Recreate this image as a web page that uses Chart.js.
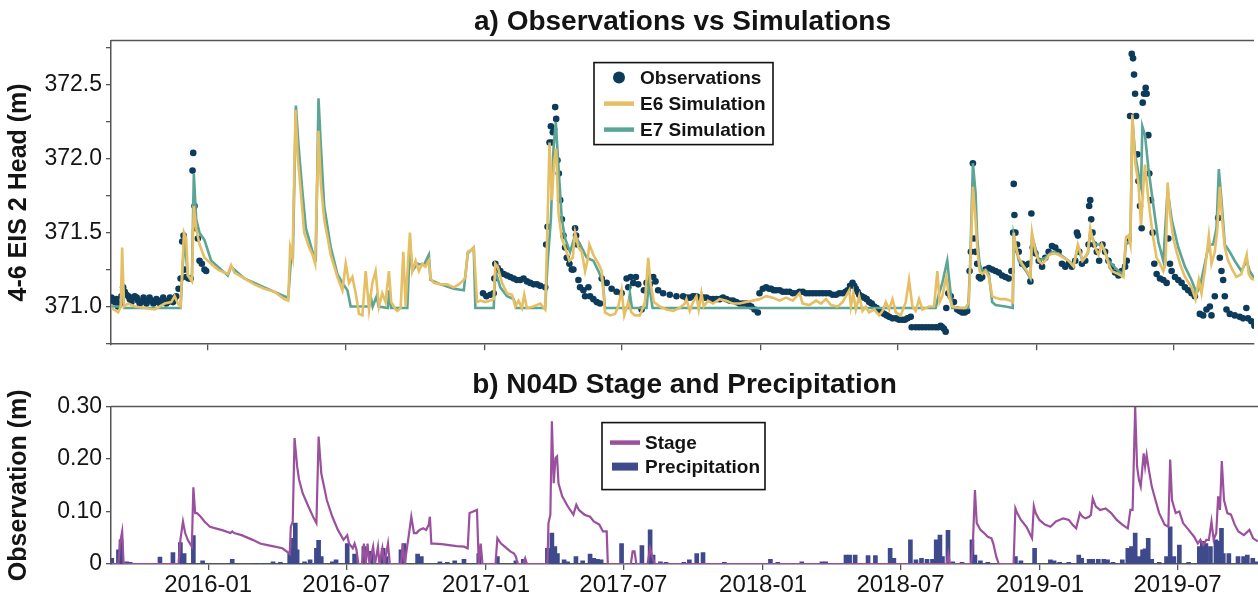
<!DOCTYPE html>
<html>
<head>
<meta charset="utf-8">
<script src="https://cdn.jsdelivr.net/npm/chart.js@4.4.1/dist/chart.umd.min.js"></script>
<style>
  html, body { margin: 0; padding: 0; background: #fff; overflow: hidden; }
  #top { position: absolute; left: 0; top: 0; width: 1258px; height: 362px; }
  #bottom { position: absolute; left: 0; top: 362px; width: 1258px; height: 239px; }
</style>
</head>
<body>
<div id="top"><canvas id="headChart"></canvas></div>
<div id="bottom"><canvas id="stageChart"></canvas></div>
<script>
// x values are days since 2016-01-01
const xTickDays = [0, 182, 366, 547, 731, 912, 1096, 1277];
const xTickLabels = ['2016-01', '2016-07', '2017-01', '2017-07', '2018-01', '2018-07', '2019-01', '2019-07'];
const headTicks = [370.75, 371.0, 371.25, 371.5, 371.75, 372.0, 372.25, 372.5, 372.75];
const stageTicks = [0, 0.05, 0.10, 0.15, 0.20, 0.25, 0.30];

const obsDay = [
  -127.4, -125.2, -123.0, -121, -118.6, -116, -114.2, -112.0, -109.8, -107.6, -105, -103.2, -101, -98.8, -96.6, -94,
  -92.3, -90, -87.9, -85, -83.5, -81, -79.1, -77, -74.7, -72, -70.3, -68, -65.9, -63, -61.5, -59, -57.1, -55,
  -52.7, -50, -48.3, -46, -43.9, -41.7, -38.7, -36.0, -33.8, -32.1, -30.8, -28.6, -25.5, -22.8, -20.2, -19.3,
  -17.6, -15.8, -13.2, -11.0, -7.9, -4.4, -2.2,
  363.8, 368.2, 373.5, 377.9, 378.8, 380.1, 383.2, 386.7, 391.1, 395.5, 399.9, 404.3, 408.6, 413.0, 417.4, 421.8,
  426.2, 430.6, 435.0, 439.4, 446.0, 447.3, 449.1, 451.7, 453.5, 454.8, 456.1, 457.8, 459.2, 460.5, 462.2, 464.0,
  465.8, 468.0, 470.1, 472.3, 474.5, 478.0, 481.1, 483.3, 485.5, 486.8, 488.6, 489.9, 492.1, 496.5, 498.7, 503.1,
  505.3, 509.7, 514.1, 518.5, 520.7, 527.2, 533.8, 540.4, 547.0, 553.6, 555.8, 558.9, 562.4, 565.9, 569.0, 573.4,
  576.5, 580.0, 584.3, 588.8, 591.8, 595.3, 601.9, 610.7, 619.5,
  628.3, 632.7, 637.1, 641.5, 645.9, 650.3, 654.7, 659.0, 663.4, 667.8, 672.2, 676.6, 681.0, 685.4, 689.8, 694.2,
  698.6, 703.0, 707.4, 711.8, 715.0, 718.4, 722.7, 727.1, 729.3, 733.7, 738.1, 742.0, 744.7, 748.0, 751.3, 756.0,
  760.1, 764.5, 768.9, 773.3, 777.7, 782.1, 786.5, 790.8, 795.2, 799.6, 804.0, 808.4, 812.8, 817.2, 821.6, 826.0,
  830.4, 834.8, 839.2, 843.0, 845.8, 849.0, 852.3, 854.5, 856.7, 859.0, 861.1, 864.4, 867.7, 871.0, 874.3, 877.6,
  880.9, 884.2, 887.5, 890.8, 894.1, 897.4, 900.7, 905.1, 909.5, 913.8, 918.2, 921.5, 924.8, 929.2, 930.5, 935.8,
  940.2, 944.6, 949.0, 953.4, 957.8, 962.2, 965.5, 968.8, 971.0, 973.1, 975.4, 976.2, 978.9, 982.0, 986.3, 990.7,
  994.0, 997.3, 1000.6, 1003.9, 1007.0, 1008.7, 1011.4,
  1012.7, 1014.9, 1017.1, 1019.3, 1021.5, 1023.7, 1028.1, 1032.5, 1036.9, 1041.3, 1045.6, 1050.0, 1054.4, 1058.8,
  1062.3, 1064.5, 1065.4, 1066.3, 1067.6, 1069.8, 1072.0, 1076.4, 1080.8, 1085.2, 1087.4, 1088.7, 1090.5, 1094.0,
  1098.4, 1102.8, 1107.1, 1111.5, 1115.9, 1120.3, 1124.7, 1129.1, 1133.5, 1137.9, 1142.3, 1146.7, 1148.9, 1150.2,
  1152.0, 1155.5, 1159.9, 1164.3, 1165.1, 1166.5, 1167.8, 1169.5, 1171.7, 1175.2, 1178.3, 1182.7, 1186.2, 1190.6,
  1195.0, 1199.4, 1203.8, 1208.2, 1212.6, 1214.8, 1217.0, 1219.2, 1221.4, 1223.1, 1224.4, 1225.8, 1227.1, 1228.8,
  1230.2, 1232.3, 1234.5, 1235.9, 1237.6, 1239.8, 1241.1, 1243.3, 1244.6, 1246.8, 1249.0, 1251.2, 1254.3, 1258.7,
  1263.1, 1267.5, 1269.7, 1271.9, 1274.1, 1278.5, 1282.9, 1287.3, 1291.7, 1296.0, 1300.4, 1304.8, 1311.4, 1315.8,
  1320.2, 1324.6, 1326.8, 1331.2, 1335.6, 1337.8, 1340.0, 1342.2, 1344.4, 1346.6, 1351.0, 1357.5, 1364.1, 1368.5,
  1372.9, 1375.1, 1379.5, 1383.5
];
const obsHead = [
  371.06, 371.04, 371.03, 371.05, 371.00, 371.02, 371.07, 371.13, 371.10, 371.08, 371.07, 371.05, 371.03, 371.06, 371.07, 371.06,
  371.04, 371.02, 371.03, 371.06, 371.04, 371.02, 371.04, 371.06, 371.04, 371.02, 371.03, 371.05, 371.03, 371.02, 371.04, 371.06, 371.04, 371.02,
  371.03, 371.06, 371.04, 371.03, 371.05, 371.07, 371.12, 371.19, 371.44, 371.48, 371.25, 371.20, 371.19, 371.19, 371.92, 372.04,
  371.68, 371.53, 371.46, 371.31, 371.29, 371.25, 371.24,
  371.09, 371.07, 371.08, 371.09, 371.19, 371.29, 371.26, 371.24, 371.22, 371.21, 371.20, 371.19, 371.18, 371.18, 371.19, 371.17,
  371.16, 371.15, 371.15, 371.14, 371.13, 371.42, 371.54, 372.11, 372.22, 372.11, 372.18, 372.20, 372.35, 372.27, 371.99, 371.90,
  371.72, 371.59, 371.48, 371.40, 371.33, 371.29, 371.25, 371.25, 371.53, 371.48, 371.42, 371.18, 371.13, 371.11, 371.07, 371.13,
  371.07, 371.05, 371.03, 371.02, 371.19, 371.16, 371.12, 371.10, 371.09, 371.19, 371.13, 371.20, 371.16, 371.20, 371.15, 370.98,
  371.11, 371.16, 371.15, 371.20, 371.17, 371.11, 371.09, 371.08, 371.07,
  371.07, 371.06, 371.06, 371.07, 371.07, 371.06, 371.06, 371.06, 371.05, 371.05, 371.05, 371.05, 371.06, 371.05, 371.04, 371.04,
  371.03, 371.02, 371.02, 371.02, 371.01, 371.00, 370.98, 370.96, 371.09, 371.12, 371.13, 371.12, 371.12, 371.11, 371.11, 371.11,
  371.10, 371.10, 371.10, 371.09, 371.09, 371.10, 371.10, 371.09, 371.09, 371.09, 371.09, 371.09, 371.09, 371.09, 371.09, 371.08,
  371.08, 371.09, 371.09, 371.10, 371.11, 371.14, 371.16, 371.14, 371.12, 371.10, 371.08, 371.07, 371.06, 371.05, 371.03, 371.02,
  371.00, 370.99, 370.97, 370.96, 370.95, 370.94, 370.93, 370.92, 370.92, 370.91, 370.91, 370.91, 370.92, 370.93, 370.86, 370.86,
  370.86, 370.86, 370.86, 370.86, 370.86, 370.86, 370.86, 370.87, 370.86, 370.85, 370.83, 370.99, 371.09, 371.07, 371.03, 370.98,
  370.97, 370.96, 370.96, 370.97, 371.24, 371.37, 371.97,
  371.46, 371.37, 371.29, 371.20, 371.19, 371.20, 371.25, 371.26, 371.25, 371.24, 371.23, 371.21, 371.20, 371.19,
  371.24, 371.50, 371.83, 371.62, 371.50, 371.42, 371.37, 371.29, 371.28, 371.29, 371.17, 371.63, 371.40, 371.36,
  371.31, 371.27, 371.33, 371.37, 371.41, 371.40, 371.37, 371.29, 371.27, 371.29, 371.27, 371.31, 371.50, 371.48,
  371.37, 371.29, 371.31, 371.42, 371.68, 371.72, 371.59, 371.50, 371.42, 371.37, 371.31, 371.42, 371.37, 371.31,
  371.27, 371.23, 371.21, 371.24, 371.27, 371.31, 371.46, 372.29, 372.71, 372.68, 372.57, 372.44, 372.29, 372.03,
  371.85, 371.68, 371.53, 372.38, 372.44, 372.48, 372.44, 372.16, 371.90, 371.72, 371.50, 371.29, 371.22, 371.19,
  371.18, 371.16, 371.46, 371.29, 371.24, 371.20, 371.18, 371.16, 371.13, 371.11, 371.09, 371.07, 370.95, 370.94,
  370.98, 371.00, 370.94, 371.07, 371.60, 371.33, 371.24, 371.18, 371.07, 370.98, 370.95, 370.94, 370.93, 370.92,
  370.99, 370.92, 370.90, 370.87
];

const e6Day = [
  -127.4, -118.6, -115.1, -113.3, -110.7, -105.4, -96.6, -83.5, -70.3, -57.1, -48.3, -43.9, -39.5, -36.0, -31.6, -28.6,
  -26.4, -21.1, -18.5, -15.4, -11.0, -4.4, 4.4, 13.2, 26.4, 30.8, 35.1, 48.3, 61.5, 74.7, 87.9, 101.0,
  106.3, 108.9, 112.0, 116.0, 118.6, 123.0, 127.4, 134.0, 138.4, 141.9, 146.3, 149.4, 153.8, 162.5, 171.3, 177.9,
  182.3, 186.7, 191.1, 195.5, 199.9, 204.3, 208.7, 213.1, 217.5, 221.8, 226.2, 230.6, 235.0, 239.4, 242.5, 248.2,
  250.5, 254.9, 258.4, 261.5, 264.5, 267.2, 270.3, 274.7, 279.0, 283.4, 287.8, 292.2, 294.4, 298.8, 307.6, 316.4,
  325.2, 331.8, 338.4, 340.6, 343.6, 347.1, 351.5, 353.7, 355.9, 360.3, 366.9, 373.5, 377.9, 380.1, 383.2, 388.9,
  395.5, 402.1, 406.5, 410.8, 415.2, 418.3, 421.8, 430.6, 439.4, 446.0, 448.2, 451.7, 454.8, 457.8, 460.5, 463.6,
  468.0, 472.3, 478.0, 482.4, 485.5, 489.9, 494.3, 498.7, 501.8, 504.4, 509.7, 516.3, 520.7, 525.1, 531.6, 538.2,
  542.6, 547.0, 550.5, 555.7, 560.1, 564.5, 571.2, 577.8, 582.2, 585.2, 589.6, 597.5, 606.3, 615.1, 623.9, 630.5,
  632.7, 637.1, 641.5, 645.9, 649.0, 652.5, 655.5, 661.2, 667.8, 676.6, 685.4, 694.2, 703.0, 711.8, 720.6, 729.3,
  738.1, 746.9, 755.7, 764.5, 773.3, 782.1, 786.5, 795.2, 804.0, 810.6, 817.2, 823.8, 832.6, 839.2, 848.0, 850.1,
  853.2, 856.7, 861.1, 865.5, 869.9, 874.3, 880.9, 887.5, 891.9, 896.3, 900.7, 905.1, 909.5, 916.0, 922.6, 927.0,
  931.4, 935.8, 940.2, 944.6, 953.4, 960.0, 964.4, 967.4, 971.0, 976.2, 979.7, 984.1, 992.9, 1001.7, 1006.1, 1008.7,
  1011.4, 1014.9, 1017.1, 1020.2, 1023.7, 1028.1, 1032.5, 1036.9, 1041.3, 1047.8, 1054.4, 1061.0, 1064.1, 1065.4, 1067.6, 1072.0,
  1076.4, 1083.0, 1087.4, 1089.6, 1094.0, 1098.4, 1102.8, 1107.1, 1112.4, 1118.1, 1124.7, 1131.3, 1137.9, 1144.5, 1150.2, 1153.3,
  1156.3, 1159.9, 1163.4, 1166.5, 1169.5, 1173.0, 1177.4, 1181.8, 1186.2, 1190.6, 1195.0, 1203.8, 1210.4, 1213.5, 1217.0, 1219.6,
  1222.2, 1225.8, 1230.2, 1233.7, 1236.7, 1238.9, 1242.5, 1245.5, 1249.9, 1254.3, 1258.7, 1263.1, 1266.2, 1268.8, 1271.9, 1276.3,
  1280.7, 1285.1, 1291.7, 1300.4, 1305.7, 1310.1, 1313.6, 1318.0, 1323.3, 1326.8, 1331.2, 1334.7, 1337.8, 1340.9, 1344.4, 1348.8,
  1355.4, 1359.7, 1366.3, 1373.4, 1376.0, 1379.5, 1383.5
];
const e6Head = [
  370.99, 370.96, 371.00, 371.40, 371.00, 371.02, 371.00, 370.99, 370.98, 371.02, 371.03, 371.07, 371.02, 371.00, 371.50, 371.46,
  371.21, 371.17, 371.68, 371.53, 371.42, 371.33, 371.29, 371.25, 371.22, 371.28, 371.23, 371.19, 371.15, 371.12, 371.10, 371.05,
  371.04, 371.40, 371.33, 372.33, 372.03, 371.77, 371.50, 371.40, 371.35, 371.29, 372.19, 371.83, 371.59, 371.35, 371.20, 371.11,
  371.29, 371.16, 371.20, 371.09, 370.95, 370.94, 371.24, 370.98, 371.16, 371.24, 371.00, 371.09, 371.03, 371.24, 371.03, 370.98,
  370.97, 370.99, 371.37, 371.00, 371.29, 371.50, 371.24, 371.31, 371.24, 371.29, 371.27, 371.31, 371.19, 371.16, 371.15, 371.15,
  371.13, 371.15, 371.18, 371.20, 371.37, 371.38, 371.40, 371.22, 371.03, 371.04, 371.03, 371.04, 371.05, 371.29, 371.27, 371.16,
  371.09, 371.08, 371.00, 371.04, 370.99, 371.08, 370.99, 371.00, 371.02, 370.98, 371.40, 372.11, 371.72, 371.98, 372.07, 371.63,
  371.46, 371.40, 371.31, 371.33, 371.50, 371.40, 371.37, 371.24, 371.31, 371.42, 371.35, 371.29, 371.24, 370.96, 370.94, 370.95,
  371.00, 371.11, 370.94, 371.03, 370.96, 370.94, 370.94, 371.03, 371.33, 371.16, 371.03, 371.00, 370.98, 370.97, 370.99, 371.02,
  371.05, 370.97, 371.03, 371.07, 370.98, 371.09, 371.00, 371.04, 371.02, 371.05, 371.04, 371.02, 371.02, 371.03, 371.04, 371.05,
  371.07, 371.06, 371.04, 371.06, 371.04, 371.09, 371.02, 371.01, 371.04, 371.02, 371.05, 371.01, 371.00, 371.03, 371.11, 371.00,
  371.09, 370.98, 371.07, 370.97, 371.00, 370.96, 370.98, 370.94, 370.97, 371.03, 370.98, 371.05, 370.96, 370.94, 371.03, 371.18,
  371.00, 370.97, 371.05, 370.98, 371.00, 371.00, 371.24, 371.03, 371.07, 371.20, 371.07, 371.00, 370.99, 370.99, 371.03, 371.40,
  371.81, 371.59, 371.40, 371.24, 371.22, 371.24, 371.20, 371.07, 371.06, 371.05, 371.05, 371.04, 371.03, 371.50, 371.42, 371.33,
  371.29, 371.24, 371.20, 371.50, 371.37, 371.31, 371.29, 371.31, 371.35, 371.36, 371.35, 371.33, 371.31, 371.27, 371.42, 371.37,
  371.31, 371.33, 371.37, 371.53, 371.46, 371.40, 371.35, 371.42, 371.37, 371.29, 371.24, 371.22, 371.20, 371.46, 371.48, 371.42,
  372.30, 371.98, 371.83, 371.55, 371.81, 371.96, 371.77, 371.63, 371.46, 371.33, 371.29, 371.24, 371.29, 371.84, 371.63, 371.46,
  371.37, 371.29, 371.20, 371.13, 371.05, 371.18, 371.09, 371.24, 371.48, 371.29, 371.37, 371.53, 371.81, 371.59, 371.40, 371.31,
  371.24, 371.20, 371.22, 371.35, 371.22, 371.19, 371.18
];

const e7Day = [
  -127.4, -115.1, -113.3, -110.7, -36.0, -33.0, -30.8, -26.4, -21.1, -18.5, -15.4, -11.0, -4.4, 4.4, 13.2, 26.4,
  30.8, 48.3, 74.7, 101.0, 106.3, 109.8, 112.4, 116.4, 119.9, 125.2, 129.6, 138.4, 142.8, 146.3, 149.4, 153.8,
  162.5, 171.3, 177.9, 184.5, 188.9, 213.1, 215.3, 217.9, 223.2, 225.8, 238.1, 239.8, 242.5,
  246.1, 263.7, 267.2, 270.3, 276.9, 285.6, 292.2, 294.4, 307.6, 325.2, 338.4, 343.6, 351.5, 353.7, 377.9, 380.1,
  386.7, 395.5, 404.3, 407.8, 446.0, 449.1, 453.5, 457.0, 460.0, 463.6, 468.0, 472.3, 478.9, 485.5, 492.1, 500.9,
  509.7, 516.3, 522.0, 525.1, 555.7, 558.0, 560.6, 580.0, 583.0, 587.9, 634.9,
  962.2, 965.7, 971.0, 977.5, 981.1, 984.1, 1005.2, 1007.8, 1011.4,
  1014.9, 1017.1, 1020.2, 1023.7, 1028.1, 1032.5, 1036.9, 1041.3, 1054.4, 1064.1, 1065.4, 1072.0, 1083.0, 1087.4, 1089.6, 1098.4,
  1107.1, 1115.9, 1124.7, 1137.9, 1144.5, 1150.2, 1156.3, 1163.4, 1166.5, 1173.0, 1181.8, 1190.6, 1203.8, 1210.4, 1213.5, 1219.6,
  1222.2, 1225.8, 1230.2, 1233.7, 1235.4, 1238.9, 1243.3, 1247.7, 1256.5, 1263.1, 1268.8, 1274.1, 1282.9, 1291.7, 1300.4, 1307.0,
  1311.4, 1318.0, 1323.3, 1329.0, 1333.4, 1336.5, 1340.0, 1344.4, 1351.0, 1357.5, 1366.3, 1373.4, 1377.3, 1383.5
];
const e7Head = [
  371.00, 371.00, 371.16, 370.99, 370.99, 371.29, 371.46, 371.21, 371.18, 371.90, 371.59, 371.50, 371.45, 371.31, 371.27, 371.21,
  371.27, 371.19, 371.13, 371.07, 371.06, 371.31, 371.33, 372.36, 372.09, 371.77, 371.53, 371.37, 371.33, 372.41, 372.09, 371.68,
  371.40, 371.22, 371.16, 371.11, 371.00, 371.00, 371.07, 371.00, 371.07, 371.00, 370.99, 371.11, 370.99,
  370.99, 370.99, 371.42, 371.24, 371.29, 371.28, 371.35, 371.18, 371.15, 371.12, 371.11, 371.36, 371.40, 370.99, 370.99, 371.24,
  371.13, 371.07, 371.05, 370.99, 370.99, 371.29, 371.59, 372.07, 372.25, 371.94, 371.59, 371.46, 371.37, 371.48, 371.42, 371.33,
  371.31, 371.24, 371.17, 370.99, 370.99, 371.09, 370.99, 370.99, 371.16, 370.99, 370.99,
  370.99, 371.07, 371.16, 371.31, 371.13, 370.99, 370.99, 371.29, 371.97,
  371.77, 371.46, 371.29, 371.24, 371.25, 371.22, 371.03, 371.01, 371.00, 370.99, 371.48, 371.31, 371.23, 371.19, 371.48, 371.31,
  371.33, 371.37, 371.36, 371.31, 371.28, 371.40, 371.31, 371.36, 371.50, 371.42, 371.42, 371.31, 371.24, 371.22, 371.42, 371.44,
  372.27, 372.03, 371.90, 371.81, 372.22, 372.16, 371.94, 371.77, 371.44, 371.31, 371.79, 371.59, 371.40, 371.27, 371.18, 371.09,
  371.13, 371.29, 371.42, 371.42, 371.53, 371.93, 371.72, 371.42, 371.37, 371.31, 371.24, 371.31, 371.24, 371.19
];

const stageDay = [
  -127.0, -118.2, -116.2, -113.3, -111.4, -39.1, -36.6, -33.2, -30.3, -26.9, -21.5, -19.5, -17.1, -14.7, -9.8, -4.9,
  2.4, 9.8, 19.5, 29.3, 31.7, 34.2, 44.0, 58.6, 68.4, 78.1, 87.9, 97.7, 105.0, 107.4, 108.9, 111.4,
  113.8, 117.2, 119.7, 124.5, 131.9, 139.2, 142.6, 145.5, 149.0, 156.3, 163.6, 170.9, 178.3, 183.2, 185.6, 190.5,
  192.9, 195.4, 197.8, 202.7, 205.1, 207.6, 210.0, 212.5, 217.3, 219.8, 223.7, 225.6, 229.5, 232.0, 236.9, 239.3,
  254.0, 256.4, 258.9, 264.7, 267.6, 271.1, 274.5, 278.4, 283.3, 287.2, 290.6, 292.1, 294.0, 297.9, 307.7, 317.5,
  327.2, 337.0, 341.9, 344.3, 349.2, 354.1, 356.5, 359.0, 361.4, 378.5, 381.0, 385.8, 390.7, 398.0, 402.9, 405.4,
  407.8, 415.1, 417.6, 420.0, 446.9, 448.3, 450.8, 452.8, 455.2, 457.6, 459.6, 461.5, 466.4, 473.7, 481.1, 485.0,
  488.4, 495.7, 503.1, 508.0, 515.3, 520.1, 525.0, 526.5, 556.8, 559.2, 561.7, 564.1, 578.8, 582.2, 585.1, 588.5,
  621.8, 973.0, 975.0, 977.0, 1005.2, 1007.6, 1010.1, 1012.5, 1017.3, 1022.2, 1027.0, 1031.9, 1034.3, 1038.2, 1041.6, 1061.0,
  1063.4, 1065.8, 1070.7, 1078.0, 1085.3, 1087.7, 1090.1, 1095.0, 1102.3, 1109.5, 1116.8, 1126.5, 1133.8, 1138.7, 1143.5, 1148.4,
  1151.8, 1155.6, 1160.5, 1162.9, 1165.3, 1169.2, 1175.0, 1182.3, 1189.6, 1196.9, 1204.2, 1211.5, 1214.9, 1217.8, 1221.2, 1223.7,
  1226.1, 1228.5, 1232.4, 1234.3, 1236.3, 1239.2, 1243.0, 1247.9, 1252.8, 1260.0, 1264.9, 1267.3, 1269.7, 1274.6, 1279.4, 1284.3,
  1291.6, 1298.8, 1303.7, 1307.1, 1311.0, 1314.9, 1318.3, 1321.7, 1324.6, 1328.0, 1330.5, 1332.9, 1335.3, 1338.2, 1342.6, 1347.4,
  1352.3, 1357.1, 1364.4, 1371.7, 1376.6, 1382.8
];
const stageLevel = [
  0, 0, 0.039, 0.062, 0, 0, 0.046, 0.081, 0.059, 0.046, 0.033, 0.146, 0.097, 0.097, 0.090, 0.081,
  0.071, 0.068, 0.064, 0.059, 0.062, 0.059, 0.055, 0.046, 0.039, 0.036, 0.033, 0.030, 0.022, 0.019, 0.071, 0.081,
  0.240, 0.186, 0.161, 0.135, 0.110, 0.087, 0.078, 0.243, 0.173, 0.122, 0.090, 0.065, 0.046, 0.055, 0.039, 0.030,
  0.039, 0.027, 0, 0, 0.039, 0, 0.039, 0, 0.033, 0, 0.033, 0, 0.030, 0, 0.039, 0,
  0, 0.039, 0, 0.059, 0.090, 0.059, 0.059, 0.065, 0.068, 0.065, 0.075, 0.090, 0.039, 0.039, 0.038, 0.036,
  0.034, 0.033, 0.030, 0.097, 0.100, 0.103, 0, 0.039, 0, 0, 0.049, 0.039, 0.033, 0.024, 0.020, 0.014,
  0, 0, 0.011, 0, 0, 0.078, 0.094, 0.272, 0.154, 0.202, 0.205, 0.154, 0.129, 0.110, 0.094, 0.113,
  0.103, 0.094, 0.090, 0.081, 0.075, 0.062, 0.062, 0, 0, 0.024, 0.024, 0, 0, 0.030, 0.014, 0,
  0, 0, 0.019, 0, 0, 0.046, 0.141, 0.078, 0.065, 0.059, 0.052, 0.049, 0.039, 0.014, 0, 0,
  0.106, 0.097, 0.084, 0.071, 0.049, 0.110, 0.097, 0.084, 0.075, 0.071, 0.081, 0.087, 0.084, 0.075, 0.068, 0.097,
  0.090, 0.087, 0.090, 0.094, 0.125, 0.110, 0.103, 0.106, 0.097, 0.084, 0.075, 0.068, 0.103, 0.103, 0.299, 0.186,
  0.161, 0.148, 0.211, 0.186, 0.208, 0.180, 0.148, 0.122, 0.097, 0.075, 0.071, 0.199, 0.122, 0.097, 0.100, 0.078,
  0.065, 0.052, 0.039, 0.046, 0.036, 0.046, 0.046, 0.081, 0.046, 0.059, 0.129, 0.103, 0.196, 0.122, 0.097, 0.094,
  0.075, 0.062, 0.055, 0.065, 0.049, 0.043
];

const precipDay = [
  -127.0, -118.2, -114.8, -107.4, -102.6, -63.5, -46.4, -36.6, -31.7, -19.5, -7.3, 31.7, 63.5, 73.3, 85.5, 95.2,
  107.4, 109.9, 112.3, 114.8, 117.2, 127.0, 134.3, 142.6, 145.5, 149.0, 163.6, 168.5, 183.2, 192.9, 205.1, 214.9,
  230.5, 234.4, 254.0, 257.9, 275.9, 280.8, 305.3, 315.0, 324.8, 337.0, 356.5, 381.0, 405.4, 415.1, 446.9, 449.3,
  452.8, 456.7, 460.1, 468.9, 473.7, 484.5, 493.3, 503.1, 508.0, 512.8, 517.7, 544.6, 571.4, 582.2, 586.1, 595.8,
  603.2, 626.7, 633.9, 643.6, 651.9, 680.0, 740.7, 750.4, 782.0, 808.6, 813.5, 840.2, 845.0, 852.3, 869.3, 879.0,
  898.4, 903.3, 925.1, 932.4, 939.7, 947.0, 954.2, 959.1, 964.0, 967.3, 974.6, 980.9, 993.1, 1006.2, 1010.1, 1017.3,
  1027.0, 1063.4, 1070.7, 1088.7, 1109.5, 1114.4, 1121.7, 1133.8, 1146.9, 1150.8, 1160.5, 1165.3, 1172.6, 1179.9, 1184.8, 1192.0,
  1204.2, 1211.5, 1216.3, 1221.2, 1226.1, 1230.9, 1234.3, 1238.4, 1243.0, 1252.8, 1262.5, 1267.3, 1272.2, 1279.4, 1291.6, 1305.7,
  1309.6, 1314.4, 1320.3, 1327.6, 1331.0, 1334.9, 1337.3, 1344.6, 1356.7, 1364.0, 1368.9, 1376.1, 1381.0
];
const precipAmount = [
  0.011, 0.027, 0.046, 0.004, 0.003, 0.013, 0.022, 0.041, 0.020, 0.054, 0.006, 0.009, 0.001, 0.001, 0.004, 0.003,
  0.020, 0.030, 0.049, 0.078, 0.027, 0.004, 0.008, 0.030, 0.045, 0.014, 0.004, 0.008, 0.039, 0.019, 0.033, 0.024,
  0.030, 0.014, 0.027, 0.039, 0.019, 0.014, 0.004, 0.003, 0.006, 0.009, 0.020, 0.014, 0.006, 0.009, 0.030, 0.030,
  0.059, 0.033, 0.020, 0.008, 0.004, 0.014, 0.006, 0.019, 0.011, 0.009, 0.008, 0.039, 0.035, 0.065, 0.017, 0.004,
  0.003, 0.003, 0.008, 0.020, 0.022, 0.003, 0.009, 0.003, 0.004, 0.004, 0.004, 0.017, 0.017, 0.017, 0.016, 0.016,
  0.030, 0.011, 0.046, 0.008, 0.011, 0.009, 0.009, 0.046, 0.055, 0.014, 0.064, 0.004, 0.003, 0.046, 0.017, 0.006,
  0.003, 0.014, 0.006, 0.030, 0.008, 0.006, 0.003, 0.003, 0.017, 0.011, 0.009, 0.009, 0.009, 0.009, 0.008, 0.003,
  0.008, 0.030, 0.033, 0.059, 0.014, 0.027, 0.029, 0.049, 0.009, 0.003, 0.014, 0.071, 0.014, 0.036, 0.003, 0.033,
  0.043, 0.039, 0.033, 0.046, 0.043, 0.068, 0.020, 0.020, 0.014, 0.014, 0.017, 0.011, 0.004
];

const xMin = -128, xMax = 1383;
const FONT = '"Liberation Sans", Arial, Helvetica, sans-serif';
const INK = '#141414';
const SPINE = '#555';
const colors = { obs: '#0d3b5b', e6: '#e6bf64', e7: '#5aa596', stage: '#9b509e', precip: '#3e4a8c' };

Chart.defaults.font.family = FONT;
Chart.defaults.color = INK;

const pts = (xs, ys) => xs.map((x, i) => ({ x: x, y: ys[i] }));

// legend drawn as a framed box inside the plot area
const boxLegend = {
  id: 'boxLegend',
  afterDraw(chart, args, opts) {
    if (!opts || !opts.items) return;
    const { ctx, chartArea } = chart;
    const x0 = chartArea.left + opts.x, y0 = chartArea.top + opts.y;
    ctx.save();
    ctx.fillStyle = 'rgba(255,255,255,0.9)';
    ctx.fillRect(x0, y0, opts.w, opts.h);
    ctx.strokeStyle = '#111';
    ctx.lineWidth = 1.6;
    ctx.strokeRect(x0, y0, opts.w, opts.h);
    ctx.font = 'bold 19px ' + FONT;
    ctx.textBaseline = 'middle';
    opts.items.forEach((it, i) => {
      const ds = chart.data.datasets[it.ds];
      const cy = y0 + opts.first + i * opts.gap;
      const sx = x0 + opts.sx;
      if (it.kind === 'dot') {
        ctx.beginPath();
        ctx.arc(sx + opts.sw / 2, cy, 6, 0, Math.PI * 2);
        ctx.fillStyle = ds.backgroundColor;
        ctx.fill();
      } else if (it.kind === 'line') {
        ctx.beginPath();
        ctx.moveTo(sx, cy);
        ctx.lineTo(sx + opts.sw, cy);
        ctx.strokeStyle = ds.borderColor;
        ctx.lineWidth = 4.5;
        ctx.stroke();
      } else {
        ctx.fillStyle = ds.backgroundColor;
        ctx.fillRect(sx + 2, cy - 4, opts.sw - 4, 8);
      }
      ctx.fillStyle = INK;
      ctx.fillText(ds.label, x0 + opts.tx, cy + 1);
    });
    ctx.restore();
  }
};

// top spine of the plot frame
const topSpine = {
  id: 'topSpine',
  afterDraw(chart) {
    const { ctx, chartArea } = chart;
    ctx.save();
    ctx.strokeStyle = SPINE;
    ctx.lineWidth = 1.5;
    ctx.beginPath();
    ctx.moveTo(chartArea.left, chartArea.top);
    ctx.lineTo(chartArea.right, chartArea.top);
    ctx.stroke();
    ctx.restore();
  }
};

function xAxis(showLabels, height) {
  return {
    type: 'linear',
    min: xMin,
    max: xMax,
    offset: false,
    afterBuildTicks: s => { s.ticks = xTickDays.map(v => ({ value: v })); },
    afterFit: s => { s.height = height; },
    grid: { display: true, offset: false, drawOnChartArea: false, drawTicks: true, tickLength: 6, color: SPINE, lineWidth: 1.3 },
    border: { display: true, color: SPINE, width: 1.5 },
    ticks: {
      display: showLabels,
      autoSkip: false,
      maxRotation: 0,
      padding: 1,
      color: INK,
      font: { size: 24 },
      callback: v => xTickLabels[xTickDays.indexOf(v)] || ''
    }
  };
}

function yAxis(min, max, tickList, label, fmt) {
  return {
    min: min,
    max: max,
    afterBuildTicks: s => { s.ticks = tickList.map(v => ({ value: v })); },
    afterFit: s => { s.width = 111; },
    grid: { display: true, drawOnChartArea: false, drawTicks: true, tickLength: 5, color: SPINE, lineWidth: 1.3 },
    border: { display: true, color: SPINE, width: 1.5 },
    ticks: { color: INK, font: { size: 23 }, padding: 4, callback: fmt },
    title: { display: true, text: label, color: INK, font: { size: 25, weight: 'bold' }, padding: { top: 4, bottom: 0 } }
  };
}

new Chart(document.getElementById('headChart'), {
  type: 'scatter',
  data: {
    datasets: [
      { label: 'E6 Simulation', data: pts(e6Day, e6Head), showLine: true, borderColor: colors.e6, borderWidth: 2.6, pointRadius: 0, tension: 0 },
      { label: 'E7 Simulation', data: pts(e7Day, e7Head), showLine: true, borderColor: colors.e7, borderWidth: 2.6, pointRadius: 0, tension: 0 },
      { label: 'Observations', data: pts(obsDay, obsHead), backgroundColor: colors.obs, borderWidth: 0, pointRadius: 3.3 }
    ]
  },
  options: {
    responsive: true,
    maintainAspectRatio: false,
    animation: false,
    layout: { padding: { left: 0, right: 0, top: 0, bottom: 0 } },
    scales: {
      x: xAxis(false, 7),
      y: yAxis(370.745, 372.80, headTicks, '4-6 EIS 2 Head (m)',
        v => Math.abs(v * 2 - Math.round(v * 2)) < 1e-6 ? v.toFixed(1) : '')
    },
    plugins: {
      legend: { display: false },
      tooltip: { enabled: false },
      title: {
        display: true, fullSize: false, text: 'a) Observations vs Simulations', color: INK,
        font: { size: 28, weight: 'bold' }, padding: { top: 5, bottom: 2 }
      },
      boxLegend: {
        x: 483, y: 22, w: 179, h: 82, first: 15, gap: 26, sx: 10, sw: 30, tx: 46,
        items: [{ ds: 2, kind: 'dot' }, { ds: 0, kind: 'line' }, { ds: 1, kind: 'line' }]
      }
    }
  },
  plugins: [boxLegend, topSpine]
});

new Chart(document.getElementById('stageChart'), {
  type: 'bar',
  data: {
    datasets: [
      { type: 'line', label: 'Stage', data: pts(stageDay, stageLevel), borderColor: colors.stage, borderWidth: 2.2, pointRadius: 0, tension: 0 },
      { type: 'bar', label: 'Precipitation', data: pts(precipDay, precipAmount), backgroundColor: colors.precip, barThickness: 4, grouped: false }
    ]
  },
  options: {
    responsive: true,
    maintainAspectRatio: false,
    animation: false,
    layout: { padding: { left: 0, right: 0, top: 0, bottom: 0 } },
    scales: {
      x: xAxis(true, 37),
      y: yAxis(0, 0.30, stageTicks, 'Observation (m)',
        v => v === 0 ? '0' : (Math.abs(v * 10 - Math.round(v * 10)) < 1e-6 ? v.toFixed(2) : ''))
    },
    plugins: {
      legend: { display: false },
      tooltip: { enabled: false },
      title: {
        display: true, fullSize: false, text: 'b) N04D Stage and Precipitation', color: INK,
        font: { size: 28, weight: 'bold' }, padding: { top: 6, bottom: 5 }
      },
      boxLegend: {
        x: 491, y: 16, w: 163, h: 67, first: 20, gap: 24, sx: 8, sw: 30, tx: 43,
        items: [{ ds: 0, kind: 'line' }, { ds: 1, kind: 'patch' }]
      }
    }
  },
  plugins: [boxLegend, topSpine]
});
</script>
</body>
</html>
